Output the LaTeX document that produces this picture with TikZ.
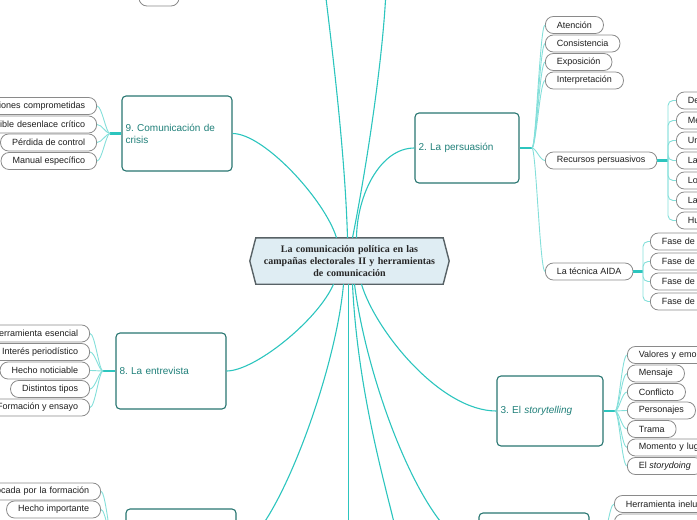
\documentclass[tikz,border=0pt]{standalone}
\usepackage{fontspec}
\setmainfont{Liberation Sans}
\newfontfamily\titlefont{Liberation Serif}
\usepackage{tikz}
\usetikzlibrary{backgrounds}
\frenchspacing
\definecolor{linkteal}{RGB}{44,197,190}
\definecolor{twigteal}{RGB}{132,223,218}
\definecolor{topicline}{RGB}{40,118,113}
\definecolor{topictext}{RGB}{32,128,122}
\definecolor{rootfill}{RGB}{223,237,243}
\definecolor{rootline}{RGB}{88,98,102}
\definecolor{leafline}{RGB}{138,138,138}
\definecolor{leaftext}{RGB}{30,30,30}

\begin{document}
\begin{tikzpicture}[x=1pt,y=-1pt,
  rootbox/.style={minimum width=187pt,minimum height=46pt,text width=175pt,align=center,inner sep=0pt,font=\titlefont\bfseries\fontsize{10}{12}\selectfont,text=black!85},
  topicbox/.style={draw=topicline,line width=1.1pt,rounded corners=4pt,fill=white,align=left,text=topictext,inner xsep=3.5pt,font=\fontsize{10}{12}\selectfont},
  leafbox/.style={draw=leafline,line width=0.8pt,rounded corners=8pt,fill=white,minimum height=17pt,inner xsep=11.5pt,inner ysep=0pt,text=leaftext,font=\fontsize{9}{11}\selectfont},
  mainlink/.style={draw=linkteal,line width=1.1pt},
  leaflink/.style={draw=twigteal,line width=0.9pt},
  stemlink/.style={draw=linkteal,line width=2.2pt}]
\useasboundingbox (0,0) rectangle (697,520);
\clip (0,0) rectangle (697,520);

\node[rootbox] (root) at (349.5,261) {La comunicación política en las\\campañas electorales II y herramientas\\de comunicación};
\begin{pgfonlayer}{background}
\path[fill=rootfill,draw=rootline,line width=1.4pt] (root.north west) -- (root.north east) -- ([xshift=6pt]root.east) -- (root.south east) -- (root.south west) -- ([xshift=-6pt]root.west) -- cycle;
\end{pgfonlayer}

\node[topicbox,text width=103pt,minimum height=75pt] (crisis) at (177,133.5) {9. Comunicación de\\crisis};
\node[topicbox,text width=97pt,minimum height=70pt] (persuasion) at (467,148) {2. La persuasión};
\node[topicbox,text width=99pt,minimum height=70pt] (story) at (550,411) {3. El \textit{storytelling}};
\node[topicbox,text width=103pt,minimum height=76pt] (interview) at (171,371) {8. La entrevista};
\node[topicbox,text width=103pt,minimum height=76pt] (southwest) at (181,547) {};
\node[topicbox,text width=103pt,minimum height=70pt] (southeast) at (534,548) {};

\node[leafbox,minimum width=40pt] (topleaf) at (159,-2.5) {};

\node[leafbox,anchor=east,text width=110pt,align=right] (c1) at (97,106) {iones comprometidas};
\node[leafbox,anchor=east,text width=110pt,align=right] (c2) at (97,124.5) {ible desenlace crítico};
\node[leafbox,anchor=east] (c3) at (97,142.5) {Pérdida de control};
\node[leafbox,anchor=east] (c4) at (97,161) {Manual específico};

\node[leafbox,anchor=west] (p1) at (545,25) {Atención};
\node[leafbox,anchor=west] (p2) at (545,43.5) {Consistencia};
\node[leafbox,anchor=west] (p3) at (545,62) {Exposición};
\node[leafbox,anchor=west] (p4) at (545,80.5) {Interpretación};
\node[leafbox,anchor=west] (recursos) at (545,160.5) {Recursos persuasivos};
\node[leafbox,anchor=west] (aida) at (545,271.5) {La técnica AIDA};

\node[leafbox,anchor=west,text width=40pt,align=left] (r1) at (676,100.5) {De};
\node[leafbox,anchor=west,text width=40pt,align=left] (r2) at (676,120.5) {Me};
\node[leafbox,anchor=west,text width=40pt,align=left] (r3) at (676,140.5) {Un};
\node[leafbox,anchor=west,text width=40pt,align=left] (r4) at (676,160.5) {La};
\node[leafbox,anchor=west,text width=40pt,align=left] (r5) at (676,180.5) {Lo};
\node[leafbox,anchor=west,text width=40pt,align=left] (r6) at (676,200.5) {La};
\node[leafbox,anchor=west,text width=40pt,align=left] (r7) at (676,220.5) {Hu};

\node[leafbox,anchor=west,text width=60pt,align=left] (a1) at (650,241.5) {Fase de};
\node[leafbox,anchor=west,text width=60pt,align=left] (a2) at (650,261.5) {Fase de};
\node[leafbox,anchor=west,text width=60pt,align=left] (a3) at (650,281.5) {Fase de};
\node[leafbox,anchor=west,text width=60pt,align=left] (a4) at (650,301.5) {Fase de};

\node[leafbox,anchor=west,text width=80pt,align=left] (s1) at (627,355) {Valores y emo};
\node[leafbox,anchor=west] (s2) at (627,373.5) {Mensaje};
\node[leafbox,anchor=west] (s3) at (627,392) {Conflicto};
\node[leafbox,anchor=west] (s4) at (627,410.5) {Personajes};
\node[leafbox,anchor=west] (s5) at (627,429) {Trama};
\node[leafbox,anchor=west,text width=80pt,align=left] (s6) at (627,447.5) {Momento y lug};
\node[leafbox,anchor=west] (s7) at (627,466) {El \textit{storydoing}};

\node[leafbox,anchor=east,text width=100pt,align=right] (i1) at (90,333.5) {erramienta esencial};
\node[leafbox,anchor=east] (i2) at (90,352) {Interés periodístico};
\node[leafbox,anchor=east] (i3) at (90,370.5) {Hecho noticiable};
\node[leafbox,anchor=east] (i4) at (90,389) {Distintos tipos};
\node[leafbox,anchor=east] (i5) at (90,407.5) {Formación y ensayo};

\node[leafbox,anchor=east,text width=110pt,align=right] (w1) at (101,491.5) {ocada por la formación};
\node[leafbox,anchor=east] (w2) at (101,509.5) {Hecho importante};

\node[leafbox,anchor=west,text width=100pt,align=left] (e1) at (614,504) {Herramienta inelu};
\node[leafbox,anchor=west,text width=100pt] (e2) at (614,522.5) {};

\coordinate (up1) at (325,-10);
\coordinate (up2) at (386,-10);
\coordinate (down1) at (348.5,530);
\coordinate (down2) at (398,540);

\draw[mainlink] ([xshift=-13pt]root.north) .. controls (325,200) and (264,133.5) .. (crisis.east);
\draw[mainlink] ([xshift=7pt]root.north) .. controls (357,195) and (380,148) .. (persuasion.west);
\draw[mainlink] ([xshift=-2pt]root.north) .. controls (345,150) and (331,40) .. (up1);
\draw[mainlink] ([xshift=3pt]root.north) .. controls (366,170) and (383,60) .. (up2);
\draw[mainlink] ([xshift=-16pt]root.south) .. controls (318,320) and (255,371) .. (interview.east);
\draw[mainlink] ([xshift=-6pt]root.south) .. controls (335,380) and (270,547) .. (southwest.east);
\draw[mainlink] ([xshift=-1pt]root.south) -- (down1);
\draw[mainlink] ([xshift=3pt]root.south) .. controls (358,400) and (390,500) .. (down2);
\draw[mainlink] ([xshift=5pt]root.south) .. controls (368,390) and (430,548) .. (southeast.west);
\draw[mainlink] ([xshift=12pt]root.south) .. controls (375,330) and (440,411) .. (story.west);

\coordinate (jcrisis) at (110,133.5);
\coordinate (jpersuasion) at (532,148);
\coordinate (jrecursos) at (668,160.5);
\coordinate (jaida) at (643,271.5);
\coordinate (jstory) at (615,411);
\coordinate (jinterview) at (103,371);
\coordinate (jsouthwest) at (114,547);
\coordinate (jsoutheast) at (601,548);

\draw[stemlink] (crisis.west) -- (jcrisis);
\draw[stemlink] (persuasion.east) -- (jpersuasion);
\draw[stemlink] (recursos.east) -- (jrecursos);
\draw[stemlink] (aida.east) -- (jaida);
\draw[stemlink] (story.east) -- (jstory);
\draw[stemlink] (interview.west) -- (jinterview);
\draw[stemlink] (southwest.west) -- (jsouthwest);
\draw[stemlink] (southeast.east) -- (jsoutheast);

\foreach \n in {c1,c2,c3,c4}
  \draw[leaflink] (jcrisis) .. controls +(-4,0) and +(5,0) .. (\n.east);
\foreach \n in {p1,p2,p3,p4,recursos,aida}
  \draw[leaflink] (jpersuasion) .. controls +(4,0) and +(-5,0) .. (\n.west);
\foreach \n in {r1,r2,r3,r4,r5,r6,r7}
  \draw[leaflink,rounded corners=5pt] (jrecursos) |- (\n.west);
\foreach \n in {a1,a2,a3,a4}
  \draw[leaflink,rounded corners=5pt] (jaida) |- (\n.west);
\foreach \n in {s1,s2,s3,s4,s5,s6,s7}
  \draw[leaflink] (jstory) .. controls +(4,0) and +(-5,0) .. (\n.west);
\foreach \n in {i1,i2,i3,i4,i5}
  \draw[leaflink] (jinterview) .. controls +(-4,0) and +(5,0) .. (\n.east);
\foreach \n in {w1,w2}
  \draw[leaflink] (jsouthwest) .. controls +(-4,0) and +(5,0) .. (\n.east);
\foreach \n in {e1,e2}
  \draw[leaflink] (jsoutheast) .. controls +(4,0) and +(-5,0) .. (\n.west);
\end{tikzpicture}
\end{document}
